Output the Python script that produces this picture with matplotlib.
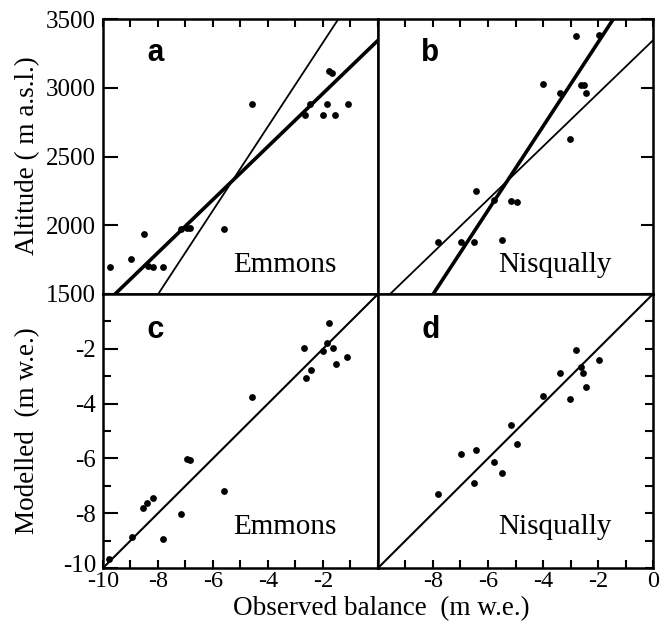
import matplotlib
matplotlib.use("Agg")
import matplotlib.pyplot as plt
import matplotlib.transforms as mtransforms
import numpy as np
from matplotlib.ticker import MultipleLocator, FixedLocator

plt.rcParams['font.family'] = ['Liberation Serif', 'DejaVu Serif']

# ---- data ----
# Panel a: Emmons observed balance vs altitude
emm_alt_obs = [-9.75, -8.97, -8.51, -8.36, -8.18, -7.82, -7.17, -6.96, -6.84, -5.6,
               -4.57, -2.64, -2.47, -1.99, -1.87, -1.78, -1.66, -1.55, -1.1]
emm_alt = [1700, 1755, 1935, 1705, 1700, 1700, 1970, 1978, 1978, 1970,
           2880, 2802, 2885, 2802, 2880, 3120, 3110, 2802, 2880]
# Panel b: Nisqually observed balance vs altitude
nis_alt_obs = [-7.83, -6.98, -6.5, -5.48, -6.45, -5.77, -5.16, -4.96, -3.99, -3.38,
               -3.02, -2.81, -2.62, -2.5, -2.45, -1.96]
nis_alt = [1876, 1876, 1876, 1893, 2249, 2184, 2179, 2171, 3025, 2960,
           2625, 3379, 3020, 3020, 2960, 3384]
# Panel c: Emmons observed vs modelled
emm_obs = [-9.77, -8.96, -8.53, -8.39, -8.19, -7.83, -7.17, -6.96, -6.84, -5.6,
           -4.57, -2.69, -2.6, -2.45, -2.01, -1.87, -1.77, -1.65, -1.53, -1.12]
emm_mod = [-9.68, -8.88, -7.82, -7.64, -7.43, -8.95, -8.03, -6.02, -6.06, -7.2,
           -3.75, -1.96, -3.08, -2.77, -2.07, -1.8, -1.07, -1.96, -2.57, -2.31]
# Panel d: Nisqually observed vs modelled
nis_obs = [-7.83, -6.98, -6.5, -6.45, -5.77, -5.48, -5.16, -4.96, -3.99, -3.38,
           -3.02, -2.81, -2.62, -2.55, -2.45, -1.96]
nis_mod = [-7.3, -5.85, -6.91, -5.69, -6.14, -6.52, -4.78, -5.49, -3.72, -2.87,
           -3.84, -2.04, -2.65, -2.87, -3.38, -2.41]

# regression lines (slope, intercept) of altitude vs balance
line_emmons = (193.0, 3345.0)
line_nisqually = (305.3, 3940.0)

x_ticks = [-10, -8, -6, -4, -2, 0]
alt_ticks = [1500, 2000, 2500, 3000, 3500]
mod_ticks = [-10, -8, -6, -4, -2]

# ---- layout ----
W, H = 671, 630
fig = plt.figure(figsize=(W / 100, H / 100), dpi=100)
L, M, R = 103 / W, 378 / W, 653 / W
T, C, B = 1 - 19 / H, 1 - 294 / H, 1 - 568 / H
ax_a = fig.add_axes([L, C, M - L, T - C])
ax_b = fig.add_axes([M, C, R - M, T - C])
ax_c = fig.add_axes([L, B, M - L, C - B])
ax_d = fig.add_axes([M, B, R - M, C - B])

TICKFS = 18
for ax in (ax_a, ax_b, ax_c, ax_d):
    ax.set_xlim(-10, 0)
    for s in ax.spines.values():
        s.set_linewidth(1.8)
    ax.xaxis.set_major_locator(MultipleLocator(2))
    ax.xaxis.set_minor_locator(MultipleLocator(1))
    ax.tick_params(which='both', direction='in', width=1.5, labelsize=TICKFS)
    ax.tick_params(which='major', length=6)
    ax.tick_params(which='minor', length=6)

for ax in (ax_a, ax_b):
    ax.set_ylim(1500, 3500)
    ax.yaxis.set_major_locator(FixedLocator(alt_ticks))
    ax.tick_params(axis='y', which='major', length=11)
    ax.tick_params(axis='x', which='both', top=True, bottom=False, labeltop=False, labelbottom=False)
for ax in (ax_c, ax_d):
    ax.set_ylim(-10, 0)
    ax.yaxis.set_major_locator(FixedLocator(mod_ticks))
    ax.yaxis.set_minor_locator(MultipleLocator(1))
    ax.tick_params(axis='y', which='major', length=11)
    ax.tick_params(axis='x', which='both', top=False, bottom=True)

ax_a.tick_params(axis='y', which='both', left=True, right=False, labelleft=True, pad=5)
ax_c.tick_params(axis='y', which='both', left=True, right=False, labelleft=True, pad=5)
ax_b.tick_params(axis='y', which='both', left=False, right=True, labelleft=False, labelright=False)
ax_d.tick_params(axis='y', which='both', left=False, right=True, labelleft=False, labelright=False)
ax_d.tick_params(axis='y', which='major', length=6)
ax_b.tick_params(axis='y', which='major', length=9)

ax_c.set_xticks(x_ticks[:-1])
ax_c.set_xticklabels([str(v) for v in x_ticks[:-1]])
ax_d.set_xticks(x_ticks[1:])
ax_d.set_xticklabels([str(v) for v in x_ticks[1:]])
ax_c.set_yticklabels([str(v) for v in mod_ticks])
ax_a.set_yticklabels([str(v) for v in alt_ticks])
for ax in (ax_c, ax_d):
    ax.tick_params(axis='x', pad=2, labelsize=17.5)

# nudge the bottom y label "-10" up a few pixels so it clears the x label "-10"
lab = ax_c.get_yticklabels()[0]
lab.set_transform(lab.get_transform() + mtransforms.ScaledTranslation(0, 5 / 100, fig.dpi_scale_trans))

MS = 24
xx = np.array([-10.0, 0.0])
def fit(p):
    return p[0] * xx + p[1]

# panel a
ax_a.plot(xx, fit(line_emmons), color='black', lw=2.6)
ax_a.plot(xx, fit(line_nisqually), color='black', lw=1.3)
ax_a.scatter(emm_alt_obs, emm_alt, s=MS, color='black', zorder=3, linewidths=0)
# panel b
ax_b.plot(xx, fit(line_emmons), color='black', lw=1.3)
ax_b.plot(xx, fit(line_nisqually), color='black', lw=2.6)
ax_b.scatter(nis_alt_obs, nis_alt, s=MS, color='black', zorder=3, linewidths=0)
# panel c, d
for ax, xo, ym in ((ax_c, emm_obs, emm_mod), (ax_d, nis_obs, nis_mod)):
    ax.plot(xx, xx, color='black', lw=1.5)
    ax.scatter(xo, ym, s=MS, color='black', zorder=3, linewidths=0)

letter_font = dict(family=['Liberation Mono', 'DejaVu Sans Mono'], fontsize=22, fontweight='bold')
ax_a.text(0.19, 0.875, 'a', transform=ax_a.transAxes, ha='center', va='center', **letter_font)
ax_b.text(0.19, 0.875, 'b', transform=ax_b.transAxes, ha='center', va='center', **letter_font)
ax_c.text(0.19, 0.87, 'c', transform=ax_c.transAxes, ha='center', va='center', **letter_font)
ax_d.text(0.19, 0.87, 'd', transform=ax_d.transAxes, ha='center', va='center', **letter_font)

NFS = 21
ax_a.text(0.66, 0.105, 'Emmons', transform=ax_a.transAxes, ha='center', va='center', fontsize=NFS)
ax_b.text(0.644, 0.105, 'Nisqually', transform=ax_b.transAxes, ha='center', va='center', fontsize=NFS)
ax_c.text(0.66, 0.15, 'Emmons', transform=ax_c.transAxes, ha='center', va='center', fontsize=NFS)
ax_d.text(0.644, 0.15, 'Nisqually', transform=ax_d.transAxes, ha='center', va='center', fontsize=NFS)

LFS = 19.5
fig.text(28 / W, 1 - 156 / H, 'Altitude ( m a.s.l.)', rotation=90, ha='center', va='center', fontsize=LFS)
fig.text(28 / W, 1 - 431 / H, 'Modelled  (m w.e.)', rotation=90, ha='center', va='center', fontsize=LFS)
fig.text(381 / W, 1 - 609 / H, 'Observed balance  (m w.e.)', ha='center', va='center', fontsize=LFS)

fig.savefig('out.png', dpi=100)
